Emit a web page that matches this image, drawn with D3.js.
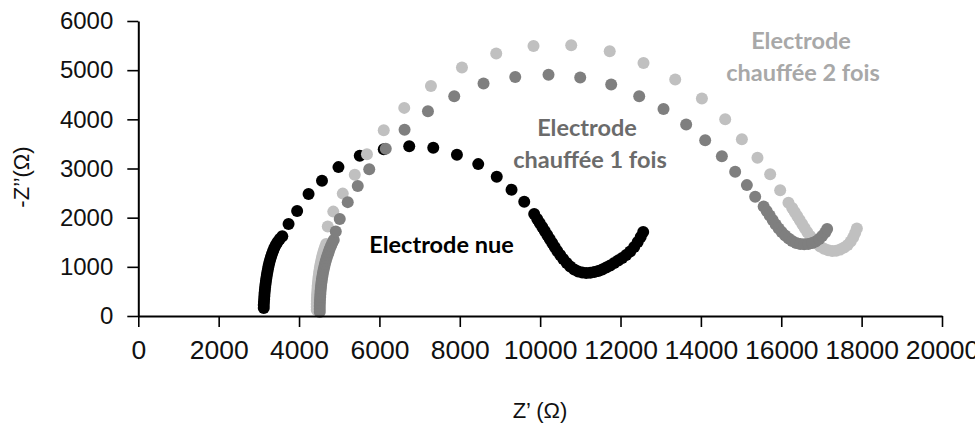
<!DOCTYPE html>
<html><head><meta charset="utf-8">
<script src="https://cdn.jsdelivr.net/npm/d3@7"></script>
<style>body{margin:0;background:#fff}svg{display:block}</style>
</head><body>
<svg id="c" width="975" height="423"></svg>
<script>
// ---- data (Z' in ohm, -Z'' in ohm) ----
const nueX = [3122,3122,3127,3132,3137,3142,3150,3157,3167,3177,3187,3200,3212,3227,3242,3259,3279,3302,3326,3354,3384,3421,3466,3521,
  3583,3739,3953,4237,4571,4981,5511,6108,6742,7340,7929,8459,8920,9288,9604,9852,
  9927,9989,10052,10114,10176,10238,10300,10362,10425,10499,10574,10661,10748,10848,10947,11047,11146,11246,11345,11445,11544,11644,11743,11843,11942,12042,12141,12241,12340,12428,12502,12564];
const nueY = [163,224,284,345,406,467,528,589,650,711,772,833,894,955,1016,1077,1138,1199,1260,1321,1382,1443,1504,1565,
  1620,1869,2134,2479,2749,3028,3261,3393,3454,3424,3282,3089,2831,2570,2323,2073,
  1971,1890,1808,1727,1646,1565,1483,1402,1321,1240,1158,1077,1006,945,904,884,874,878,894,914,945,986,1026,1077,1128,1179,1240,1311,1402,1504,1605,1707];

const chauffe1X = [4516,4516,4516,4518,4521,4526,4531,4536,4543,4550,4560,4570,4583,4595,4610,4627,4645,4665,4687,4712,4737,4762,4794,4827,4864,
  4914,5013,5212,5461,5747,6158,6626,7208,7862,8591,9380,10208,10997,11768,12465,13070,13634,14107,14522,14853,15144,15351,
  15562,15637,15712,15786,15861,15936,16010,16097,16184,16272,16371,16471,16570,16670,16769,16856,16943,17018,17093,17142];
const chauffe1Y = [81,142,203,264,325,386,447,508,569,630,691,752,813,874,935,996,1057,1118,1179,1240,1300,1361,1422,1483,1544,
  1717,1971,2316,2642,2987,3404,3790,4166,4470,4728,4863,4907,4850,4710,4470,4210,3895,3576,3251,2932,2662,2424,
  2225,2134,2042,1951,1859,1778,1707,1636,1575,1524,1483,1463,1457,1463,1483,1514,1565,1626,1697,1768];

const chauffe2X = [4441,4441,4441,4443,4446,4448,4454,4459,4463,4471,4478,4486,4496,4506,4518,4531,4546,4563,4580,4600,4623,4648,4675,
  4715,4852,5088,5387,5690,6108,6618,7282,8054,8907,9835,10773,11731,12572,13361,14025,14605,15020,15408,15724,15973,16179,
  16272,16334,16396,16458,16520,16582,16645,16719,16794,16881,16968,17067,17167,17267,17366,17466,17565,17652,17727,17789,17839,17881];
const chauffe2Y = [122,183,244,305,366,427,488,549,610,671,732,792,853,914,975,1036,1097,1158,1219,1280,1341,1402,1463,
  1819,2123,2489,2875,3292,3780,4233,4680,5054,5338,5493,5507,5385,5147,4810,4424,4003,3597,3217,2885,2560,2302,
  2195,2113,2032,1951,1869,1788,1707,1626,1544,1473,1412,1366,1335,1321,1325,1351,1392,1443,1514,1595,1687,1778];

const xTickValues = [0,2000,4000,6000,8000,10000,12000,14000,16000,18000,20000];
const xMinorValues = [1000,3000,5000,7000,9000,11000,13000,15000,17000,19000];
const yTickValues = [0,1000,2000,3000,4000,5000,6000];
const yMinorValues = [500,1500,2500,3500,4500,5500];

const xTitle = "Z’ (Ω)";
const yTitle = "-Z’’(Ω)";

// ---- drawing ----
const svg = d3.select("#c");
const x = d3.scaleLinear().domain([0,20000]).range([138.3,942]);
const y = d3.scaleLinear().domain([0,6000]).range([316,21]);
const R = 6;

function drawSeries(xs, ys, color){
  svg.append("g").selectAll("circle").data(xs.map((v,i)=>[v,ys[i]])).join("circle")
    .attr("cx", d=>x(d[0])).attr("cy", d=>y(d[1])).attr("r", R).attr("fill", color);
}
drawSeries(nueX, nueY, "#000000");
drawSeries(chauffe2X, chauffe2Y, "#c0c0c0");
drawSeries(chauffe1X, chauffe1Y, "#7f7f7f");

const tickFont = "'Liberation Sans', Arial, sans-serif";

// axes
const gx = svg.append("g").attr("transform","translate(0,316)");
gx.call(d3.axisBottom(x).tickValues(xMinorValues).tickSize(6).tickFormat("").tickSizeOuter(0));
gx.call(d3.axisBottom(x).tickValues(xTickValues).tickSize(11).tickPadding(13).tickSizeOuter(0).tickFormat(d3.format("d")));
gx.selectAll("path.domain").attr("stroke-width",2);
gx.selectAll(".tick line").attr("stroke-width",1.6);
gx.selectAll("text").attr("font-family",tickFont).attr("font-size",26.5).attr("fill","#111");

const gy = svg.append("g").attr("transform","translate(138.3,0)");
gy.call(d3.axisLeft(y).tickValues(yMinorValues).tickSize(5).tickFormat("").tickSizeOuter(0));
gy.call(d3.axisLeft(y).tickValues(yTickValues).tickSize(11).tickPadding(14).tickSizeOuter(0).tickFormat(d3.format("d")));
gy.selectAll("path.domain").attr("stroke-width",2);
gy.selectAll(".tick line").attr("stroke-width",1.6);
gy.selectAll("text").attr("font-family",tickFont).attr("font-size",24).attr("fill","#111");

// axis titles
svg.append("text").attr("x",540).attr("y",418).attr("text-anchor","middle")
  .attr("font-family",tickFont).attr("font-size",22).attr("fill","#111").text(xTitle);
svg.append("text").attr("transform","translate(29,177) rotate(-90)").attr("text-anchor","middle")
  .attr("font-family",tickFont).attr("font-size",22).attr("fill","#111").text(yTitle);

// series labels
const lab = (txt, cx, by, col) => svg.append("text").attr("x",cx).attr("y",by).attr("text-anchor","middle")
  .attr("font-family","Lato, 'Open Sans', sans-serif").attr("font-weight","bold").attr("font-size",23.5).attr("fill",col).text(txt);
lab("Electrode nue", 441.5, 253, "#000");
lab("Electrode", 587, 136, "#6b6b6b");
lab("chauffée 1 fois", 590, 168, "#6b6b6b");
lab("Electrode", 801, 49, "#a8a8a8");
lab("chauffée 2 fois", 803, 81, "#a8a8a8");
</script>
</body></html>
